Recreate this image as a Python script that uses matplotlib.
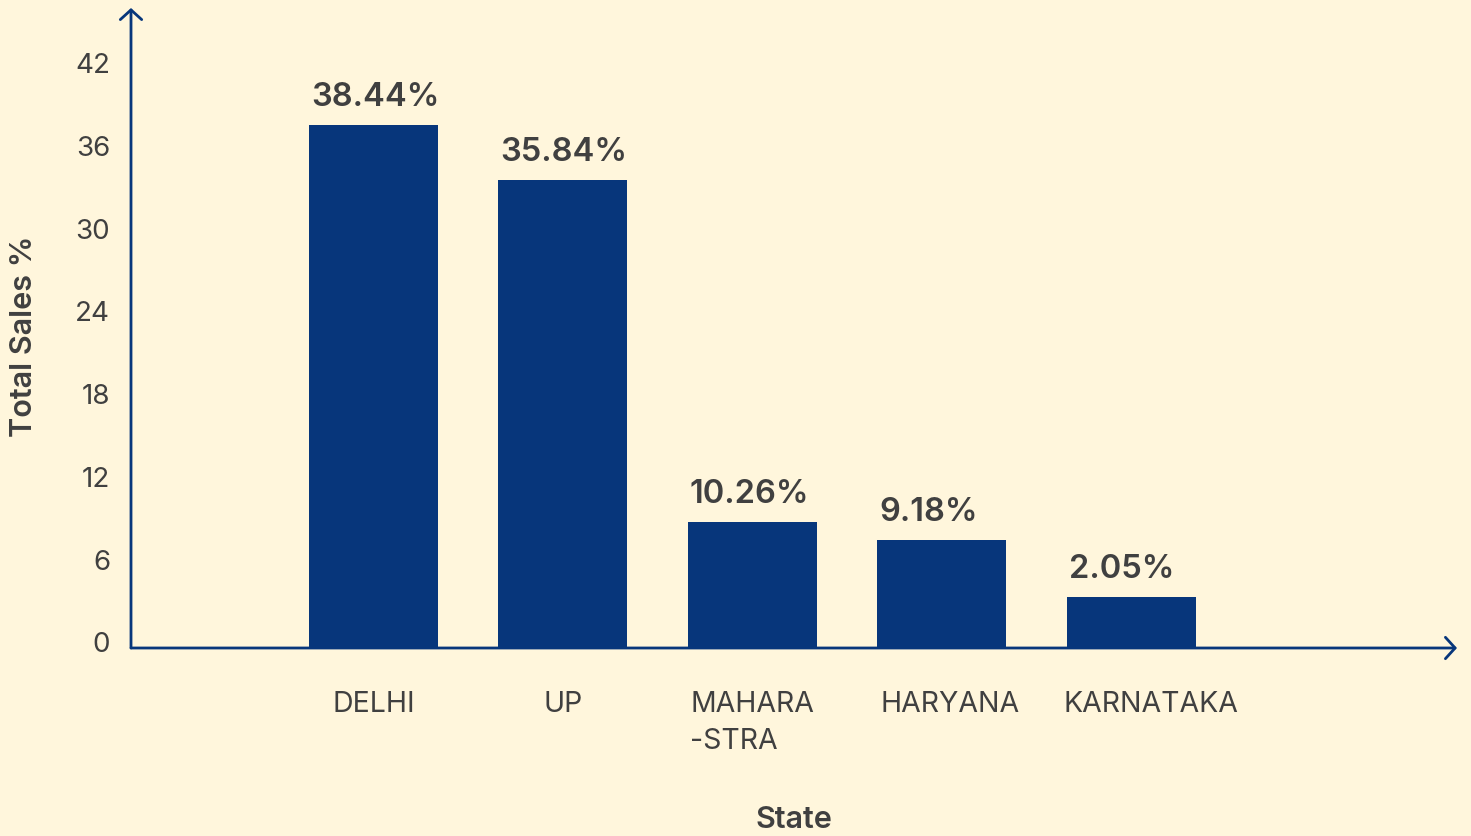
import matplotlib
matplotlib.use("Agg")
import matplotlib.pyplot as plt
import matplotlib.transforms as mtransforms

plt.rcParams['font.family'] = ['Inter', 'DejaVu Sans']

# data
states = ["DELHI", "UP", "MAHARA\n-STRA", "HARYANA", "KARNATAKA"]
bar_heights = [37.9, 33.9, 9.1, 7.8, 3.7]
value_labels = ["38.44%", "35.84%", "10.26%", "9.18%", "2.05%"]
y_ticks = [0, 6, 12, 18, 24, 30, 36, 42]

bg = "#FFF6DC"
navy = "#07367B"
txt = "#404040"

fig = plt.figure(figsize=(14.71, 8.36), dpi=100, facecolor=bg)
ax = fig.add_axes([131 / 1471, 188 / 836, 1326 / 1471, 640 / 836])
ax.set_facecolor(bg)

x = list(range(len(states)))
bars = ax.bar(x, bar_heights, width=0.68, color=navy, zorder=2)

for rect, lab in zip(bars, value_labels):
    ax.annotate(lab, (rect.get_x() + 0.01, rect.get_height()),
                xytext=(0, 14), textcoords="offset points",
                ha="left", va="baseline", fontsize=23.5, fontweight="semibold",
                color=txt)

ax.set_xlim(-1.28, 5.72)
ax.set_ylim(0, 46.4)
ax.set_yticks(y_ticks)
ax.set_yticklabels([str(t) for t in y_ticks])
ax.set_xticks(x)
ax.set_xticklabels(states, ha="center", multialignment="left", linespacing=1.45)
ax.tick_params(axis="y", length=0, pad=15, labelsize=20, labelcolor=txt)
ax.tick_params(axis="x", length=0, pad=31, labelsize=20.5, labelcolor=txt)
for lbl in ax.get_yticklabels():
    lbl.set_transform(lbl.get_transform() + mtransforms.ScaledTranslation(0, 4 / 72, fig.dpi_scale_trans))

# the reference labels drift right a little for the longer names
nudge_pts = [0, 0, 0, 6, 14]
for lbl, dx in zip(ax.get_xticklabels(), nudge_pts):
    lbl.set_va("top")
    lbl.set_transform(lbl.get_transform() + mtransforms.ScaledTranslation(dx / 72, 0, fig.dpi_scale_trans))

for s in ax.spines.values():
    s.set_visible(False)

# axis lines with open arrow heads
arrow = dict(arrowstyle="->, head_length=0.5, head_width=0.55", color=navy, lw=2,
             mutation_scale=14, shrinkA=0, shrinkB=0)
ax.annotate("", xy=(0, 1), xytext=(0, 0), xycoords="axes fraction", arrowprops=arrow)
ax.annotate("", xy=(1, 0), xytext=(0, 0), xycoords="axes fraction", arrowprops=arrow)

ax.set_ylabel("Total Sales %", fontsize=22, fontweight="semibold", color=txt)
ax.yaxis.set_label_coords(-107 / 1326, (648 - 336) / 640)
ax.set_xlabel("State", fontsize=22, fontweight="semibold", color=txt)
ax.xaxis.set_label_coords(0.5, -(820 - 648) / 640)
ax.xaxis.label.set_va("center")
ax.yaxis.label.set_va("center")

plt.savefig("out.png", dpi=100, facecolor=bg)
